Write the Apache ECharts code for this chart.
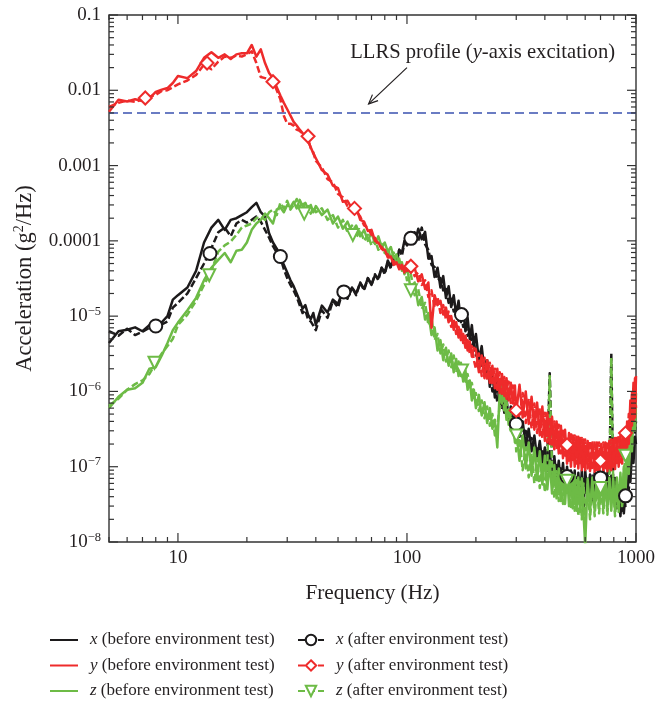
<!DOCTYPE html>
<html>
<head>
<meta charset="utf-8">
<script src="https://cdn.jsdelivr.net/npm/echarts@6/dist/echarts.min.js"></script>
<style>
  html, body { margin: 0; padding: 0; background: #ffffff; }
  #chart { width: 656px; height: 705px; }
</style>
</head>
<body>
<div id="chart"></div>
<script>
// Frequency grid (Hz) shared by all six spectra
const FREQ = [
  5, 5.5, 6, 6.5, 7, 7.5, 8, 8.5, 9, 9.5,
  10, 11, 12, 13, 14, 15, 16, 17, 18, 19,
  20, 21, 22, 23, 24, 25, 26, 27, 28, 29, 30, 31, 32, 33, 34, 35, 36, 37, 38, 39,
  40, 42.5, 45, 47.5, 50, 52.5, 55, 57.5, 60, 62.5, 65, 67.5, 70, 72.5, 75, 77.5, 80, 82.5, 85, 87.5, 90, 92.5, 95, 97.5,
  100, 104, 108, 112, 116, 120, 124, 128, 132, 136, 140, 144, 148, 152, 156, 160, 164, 168, 172, 176, 180, 184, 188, 192, 196,
  200, 206, 212, 218, 224, 230, 236, 242, 248, 254, 260, 266, 272, 278, 284, 290, 296,
  300, 310, 320, 330, 340, 350, 360, 370, 380, 390, 400, 410, 420, 430, 440, 450, 460, 470, 480, 490,
  500, 510, 520, 530, 540, 550, 560, 570, 580, 590,
  600, 615, 630, 645, 660, 675, 690, 705, 720, 735, 750, 765, 780, 795, 810, 825, 840, 855, 870, 885,
  900, 915, 930, 945, 960, 975, 990, 1000
];

// PSD, x direction, before the environment test (g^2/Hz)
const X_BEFORE = [
  4.4e-6, 6.3e-6, 6.6e-6, 7.1e-6, 6.3e-6, 7.6e-6, 7.2e-6, 8.3e-6, 1.0e-5, 1.66e-5,
  1.9e-5, 2.4e-5, 4.0e-5, 9.5e-5, 1.5e-4, 1.9e-4, 1.4e-4, 1.9e-4, 2.0e-4, 2.2e-4,
  2.4e-4, 2.8e-4, 3.2e-4, 2.4e-4, 2.1e-4, 1.26e-4, 9.5e-5, 7.9e-5, 6.3e-5, 4.8e-5, 3.8e-5, 3.0e-5, 2.5e-5, 2.0e-5, 1.6e-5, 1.26e-5, 1.4e-5, 1.05e-5, 9.1e-6, 1.1e-5,
  7.6e-6, 1.38e-5, 1.12e-5, 1.66e-5, 1.45e-5, 2.2e-5, 1.74e-5, 2.4e-5, 2.0e-5, 2.75e-5, 2.3e-5, 3.2e-5, 2.6e-5, 3.5e-5, 3.2e-5, 4.4e-5, 3.8e-5, 5.5e-5, 4.5e-5, 6.3e-5, 5.2e-5, 7.6e-5, 6.9e-5, 1.0e-4,
  8.7e-5, 1.26e-4, 9.3e-5, 1.45e-4, 1.05e-4, 1.32e-4, 5.8e-5, 6.3e-5, 3.3e-5, 4.4e-5, 2.4e-5, 3.4e-5, 1.74e-5, 2.5e-5, 1.32e-5, 1.9e-5, 1.05e-5, 1.6e-5, 8.3e-6, 1.2e-5, 6.3e-6, 9.5e-6, 5.0e-6, 7.6e-6, 4.0e-6,
  5.8e-6, 2.6e-6, 4.0e-6, 1.8e-6, 2.6e-6, 1.15e-6, 1.74e-6, 8.3e-7, 1.32e-6, 6.6e-7, 1.05e-6, 5.2e-7, 8.3e-7, 4.2e-7, 6.3e-7, 3.2e-7, 5.0e-7,
  5.0e-7, 2.5e-7, 4.0e-7, 1.9e-7, 3.2e-7, 1.6e-7, 2.6e-7, 1.26e-7, 2.2e-7, 1.12e-7, 1.8e-7, 8.9e-8, 1.6e-7, 7.9e-8, 1.38e-7, 6.6e-8, 1.2e-7, 5.6e-8, 1.12e-7, 5.0e-8,
  1.0e-7, 4.8e-8, 8.9e-8, 4.2e-8, 8.9e-8, 3.2e-8, 8.3e-8, 3.8e-8, 8.9e-8, 2.5e-8,
  8.9e-8, 4.0e-8, 7.9e-8, 3.5e-8, 8.3e-8, 4.5e-8, 9.5e-8, 5.0e-8, 8.9e-8, 4.2e-8, 8.3e-8, 3.8e-8, 7.6e-8, 3.5e-8, 7.1e-8, 2.8e-8, 5.6e-8, 2.2e-8, 4.5e-8, 2.4e-8,
  5.0e-8, 3.5e-8, 8.9e-8, 6.3e-8, 1.6e-7, 1.12e-7, 2.5e-7, 2.0e-7
];

// PSD, x direction, after the environment test
const X_AFTER = [
  6.3e-6, 5.5e-6, 6.8e-6, 5.6e-6, 6.2e-6, 7.0e-6, 7.2e-6, 7.8e-6, 8.5e-6, 1.3e-5,
  1.5e-5, 2.0e-5, 3.2e-5, 5.0e-5, 8.0e-5, 1.3e-4, 1.5e-4, 1.15e-4, 1.7e-4, 1.9e-4,
  1.75e-4, 1.9e-4, 2.1e-4, 1.8e-4, 1.4e-4, 1.1e-4, 8.5e-5, 7.0e-5, 6.0e-5, 4.2e-5, 3.2e-5, 2.6e-5, 2.2e-5, 1.8e-5, 1.4e-5, 1.1e-5, 1.2e-5, 9.0e-6, 8.5e-6, 7.5e-6,
  6.5e-6, 1.2e-5, 9.5e-6, 1.6e-5, 1.3e-5, 2.2e-5, 1.7e-5, 2.4e-5, 1.9e-5, 2.8e-5, 2.2e-5, 3.2e-5, 2.6e-5, 3.6e-5, 3.0e-5, 4.4e-5, 3.6e-5, 5.2e-5, 4.3e-5, 6.3e-5, 5.0e-5, 7.6e-5, 6.3e-5, 9.5e-5,
  1.15e-4, 9.0e-5, 1.3e-4, 1.0e-4, 1.5e-4, 9.0e-5, 7.6e-5, 4.8e-5, 4.5e-5, 3.0e-5, 3.2e-5, 2.2e-5, 2.4e-5, 1.5e-5, 1.7e-5, 1.15e-5, 1.3e-5, 8.7e-6, 1.1e-5, 7.2e-6, 8.3e-6, 5.5e-6, 6.3e-6, 4.0e-6, 4.6e-6,
  3.0e-6, 3.6e-6, 2.2e-6, 2.6e-6, 1.5e-6, 1.8e-6, 1.0e-6, 1.2e-6, 7.2e-7, 9.0e-7, 5.8e-7, 7.2e-7, 4.6e-7, 5.8e-7, 3.8e-7, 4.6e-7, 3.0e-7,
  3.8e-7, 4.0e-7, 2.4e-7, 3.0e-7, 1.9e-7, 2.4e-7, 1.5e-7, 1.9e-7, 1.2e-7, 1.6e-7, 1.0e-7, 1.3e-7, 1.75e-6, 1.2e-7, 8.3e-8, 1.05e-7, 7.2e-8, 9.5e-8, 6.3e-8, 8.7e-8,
  6.0e-8, 8.0e-8, 5.2e-8, 7.6e-8, 4.6e-8, 7.2e-8, 4.2e-8, 7.0e-8, 3.8e-8, 6.8e-8,
  4.5e-8, 7.2e-8, 4.0e-8, 7.6e-8, 4.6e-8, 8.0e-8, 5.0e-8, 7.6e-8, 4.8e-8, 7.2e-8, 4.4e-8, 6.6e-8, 3.2e-6, 6.0e-8, 3.6e-8, 5.5e-8, 3.0e-8, 4.6e-8, 2.6e-8, 4.0e-8,
  3.0e-8, 4.4e-8, 5.0e-8, 9.0e-8, 1.2e-7, 2.0e-7, 3.0e-7, 4.0e-7
];

// PSD, y direction, before the environment test
const Y_BEFORE = [
  5.2e-3, 7.5e-3, 7.1e-3, 7.6e-3, 7.2e-3, 7.8e-3, 9.5e-3, 1.02e-2, 1.07e-2, 1.25e-2,
  1.55e-2, 1.45e-2, 1.8e-2, 2.7e-2, 3.2e-2, 2.7e-2, 3.0e-2, 2.6e-2, 3.0e-2, 3.1e-2,
  3.1e-2, 4.0e-2, 2.8e-2, 3.5e-2, 2.3e-2, 1.7e-2, 1.45e-2, 1.1e-2, 8.5e-3, 6.8e-3, 5.6e-3, 4.6e-3, 3.8e-3, 3.4e-3, 3.0e-3, 2.7e-3, 2.4e-3, 2.1e-3, 1.75e-3, 1.45e-3,
  1.25e-3, 8.7e-4, 7.6e-4, 5.4e-4, 5.0e-4, 3.3e-4, 3.4e-4, 2.7e-4, 2.8e-4, 1.9e-4, 1.8e-4, 1.35e-4, 1.4e-4, 1.0e-4, 9.5e-5, 7.8e-5, 7.6e-5, 6.0e-5, 6.2e-5, 4.8e-5, 5.2e-5, 4.2e-5, 4.8e-5, 3.8e-5,
  5.2e-5, 3.8e-5, 4.4e-5, 2.9e-5, 3.6e-5, 2.3e-5, 2.8e-5, 7.0e-6, 1.9e-5, 1.4e-5, 1.6e-5, 1.05e-5, 1.3e-5, 8.3e-6, 1.0e-5, 6.6e-6, 8.3e-6, 5.2e-6, 6.6e-6, 4.4e-6, 5.5e-6, 3.5e-6, 4.6e-6, 2.9e-6, 3.8e-6,
  3.6e-6, 1.8e-6, 3.0e-6, 1.5e-6, 2.6e-6, 1.3e-6, 2.2e-6, 1.1e-6, 2.0e-6, 9.5e-7, 1.7e-6, 8.7e-7, 1.5e-6, 7.6e-7, 1.3e-6, 6.9e-7, 1.2e-6,
  5.4e-7, 1.23e-6, 4.5e-7, 1.0e-6, 3.7e-7, 8.5e-7, 3.1e-7, 7.1e-7, 2.6e-7, 6.3e-7, 2.2e-7, 5.2e-7, 2.0e-7, 4.6e-7, 1.7e-7, 4.0e-7, 1.5e-7, 3.5e-7, 1.3e-7, 3.1e-7,
  1.1e-7, 2.8e-7, 1.0e-7, 2.6e-7, 1.0e-7, 2.5e-7, 9.5e-8, 2.4e-7, 9.0e-8, 2.3e-7,
  9.0e-8, 2.2e-7, 8.7e-8, 2.1e-7, 8.5e-8, 2.1e-7, 8.3e-8, 2.0e-7, 8.5e-8, 2.1e-7, 8.7e-8, 2.2e-7, 9.0e-8, 2.3e-7, 9.3e-8, 2.4e-7, 1.0e-7, 2.6e-7, 1.1e-7, 3.0e-7,
  1.3e-7, 4.0e-7, 2.0e-7, 7.6e-7, 3.5e-7, 1.3e-6, 4.5e-7, 1.6e-6
];

// PSD, y direction, after the environment test
const Y_AFTER = [
  6.0e-3, 6.8e-3, 7.3e-3, 7.0e-3, 7.6e-3, 8.2e-3, 8.7e-3, 9.8e-3, 1.0e-2, 1.1e-2,
  1.2e-2, 1.35e-2, 1.6e-2, 2.2e-2, 1.9e-2, 2.4e-2, 2.8e-2, 2.7e-2, 2.9e-2, 2.8e-2,
  3.0e-2, 3.3e-2, 2.3e-2, 1.5e-2, 1.45e-2, 1.35e-2, 1.3e-2, 1.0e-2, 7.6e-3, 4.6e-3, 3.6e-3, 3.6e-3, 3.4e-3, 3.0e-3, 2.9e-3, 2.6e-3, 2.5e-3, 2.3e-3, 1.7e-3, 1.5e-3,
  1.15e-3, 9.5e-4, 6.6e-4, 6.0e-4, 4.2e-4, 3.8e-4, 2.9e-4, 2.8e-4, 2.5e-4, 2.1e-4, 1.6e-4, 1.5e-4, 1.2e-4, 1.1e-4, 8.7e-5, 8.3e-5, 6.9e-5, 6.6e-5, 5.5e-5, 5.4e-5, 4.6e-5, 4.8e-5, 4.2e-5, 4.6e-5,
  4.0e-5, 4.6e-5, 3.4e-5, 3.8e-5, 2.6e-5, 3.0e-5, 1.8e-5, 2.2e-5, 1.3e-5, 1.8e-5, 1.1e-5, 1.4e-5, 9.0e-6, 1.15e-5, 7.2e-6, 9.0e-6, 5.8e-6, 7.2e-6, 4.8e-6, 5.8e-6, 3.8e-6, 4.8e-6, 3.2e-6, 4.0e-6, 2.6e-6,
  2.0e-6, 3.2e-6, 1.6e-6, 2.8e-6, 1.4e-6, 2.4e-6, 1.2e-6, 2.0e-6, 1.05e-6, 1.8e-6, 9.0e-7, 1.55e-6, 8.0e-7, 1.35e-6, 7.0e-7, 1.2e-6, 6.2e-7,
  5.6e-7, 4.4e-7, 9.5e-7, 3.8e-7, 8.0e-7, 3.2e-7, 6.9e-7, 2.8e-7, 6.0e-7, 2.4e-7, 5.2e-7, 2.1e-7, 4.6e-7, 1.9e-7, 4.0e-7, 1.7e-7, 3.6e-7, 1.5e-7, 3.2e-7, 1.4e-7,
  1.95e-7, 1.2e-7, 2.8e-7, 1.15e-7, 2.6e-7, 1.1e-7, 2.5e-7, 1.05e-7, 2.4e-7, 1.0e-7,
  2.3e-7, 9.5e-8, 2.2e-7, 9.0e-8, 2.2e-7, 9.0e-8, 2.1e-7, 1.2e-7, 2.1e-7, 9.0e-8, 2.2e-7, 9.5e-8, 2.3e-7, 1.0e-7, 2.4e-7, 1.05e-7, 2.6e-7, 1.15e-7, 2.9e-7, 1.3e-7,
  2.8e-7, 1.8e-7, 5.0e-7, 2.6e-7, 1.0e-6, 4.0e-7, 1.5e-6, 6.0e-7
];

// PSD, z direction, before the environment test
const Z_BEFORE = [
  6.0e-7, 8.5e-7, 1.05e-6, 1.1e-6, 1.3e-6, 2.0e-6, 2.1e-6, 3.0e-6, 4.4e-6, 6.5e-6,
  8.2e-6, 1.2e-5, 1.75e-5, 3.0e-5, 4.4e-5, 5.6e-5, 6.9e-5, 5.2e-5, 7.4e-5, 7.6e-5,
  9.5e-5, 1.4e-4, 1.7e-4, 1.9e-4, 2.3e-4, 2.0e-4, 1.7e-4, 2.6e-4, 2.8e-4, 2.4e-4, 3.0e-4, 2.8e-4, 3.3e-4, 2.7e-4, 3.5e-4, 2.9e-4, 3.2e-4, 2.6e-4, 3.0e-4, 2.4e-4,
  2.9e-4, 2.2e-4, 2.6e-4, 1.7e-4, 2.1e-4, 1.45e-4, 1.8e-4, 1.3e-4, 1.6e-4, 1.15e-4, 1.4e-4, 1.0e-4, 1.3e-4, 9.1e-5, 1.15e-4, 8.3e-5, 9.5e-5, 7.2e-5, 8.3e-5, 6.0e-5, 6.6e-5, 4.8e-5, 5.2e-5, 3.6e-5,
  4.5e-5, 2.2e-5, 2.8e-5, 1.4e-5, 1.8e-5, 9.0e-6, 1.1e-5, 5.6e-6, 7.1e-6, 3.5e-6, 4.8e-6, 2.6e-6, 3.8e-6, 2.2e-6, 3.2e-6, 1.8e-6, 2.7e-6, 1.6e-6, 2.4e-6, 1.35e-6, 1.9e-6, 1.05e-6, 1.4e-6, 7.6e-7, 1.05e-6,
  6.0e-7, 9.0e-7, 4.8e-7, 7.2e-7, 3.8e-7, 6.0e-7, 3.2e-7, 4.2e-7, 1.8e-7, 1.0e-6, 6.9e-7, 9.5e-7, 4.2e-7, 5.8e-7, 3.0e-7, 4.2e-7, 2.1e-7,
  3.2e-7, 1.2e-7, 2.6e-7, 9.5e-8, 2.1e-7, 7.6e-8, 1.8e-7, 6.6e-8, 1.6e-7, 5.8e-8, 1.4e-7, 5.0e-8, 1.2e-7, 4.4e-8, 1.05e-7, 3.8e-8, 9.5e-8, 3.5e-8, 8.7e-8, 3.2e-8,
  8.3e-8, 3.0e-8, 7.9e-8, 2.8e-8, 7.6e-8, 2.6e-8, 7.2e-8, 2.5e-8, 7.0e-8, 2.4e-8,
  9.0e-9, 6.9e-8, 2.5e-8, 7.2e-8, 2.6e-8, 7.4e-8, 2.8e-8, 7.6e-8, 2.8e-8, 7.4e-8, 2.7e-8, 7.2e-8, 2.6e-8, 7.0e-8, 2.5e-8, 7.2e-8, 2.8e-8, 8.3e-8, 3.2e-8, 1.0e-7,
  4.4e-8, 1.6e-7, 8.0e-8, 3.0e-7, 1.6e-7, 5.5e-7, 3.0e-7, 9.5e-7
];

// PSD, z direction, after the environment test
const Z_AFTER = [
  6.5e-7, 8.0e-7, 1.05e-6, 1.25e-6, 1.4e-6, 1.7e-6, 2.4e-6, 3.2e-6, 4.0e-6, 5.0e-6,
  7.6e-6, 1.05e-5, 1.6e-5, 2.6e-5, 4.0e-5, 7.2e-5, 8.7e-5, 9.8e-5, 1.2e-4, 1.5e-4,
  1.6e-4, 1.7e-4, 2.0e-4, 2.1e-4, 1.9e-4, 2.4e-4, 2.6e-4, 2.2e-4, 3.2e-4, 2.7e-4, 3.4e-4, 2.6e-4, 3.0e-4, 3.6e-4, 2.8e-4, 3.3e-4, 2.5e-4, 2.9e-4, 2.3e-4, 2.8e-4,
  2.4e-4, 2.7e-4, 1.9e-4, 2.2e-4, 1.5e-4, 1.9e-4, 1.3e-4, 1.6e-4, 1.1e-4, 1.4e-4, 1.0e-4, 1.2e-4, 8.7e-5, 1.05e-4, 7.6e-5, 9.1e-5, 6.9e-5, 8.0e-5, 5.8e-5, 7.0e-5, 5.0e-5, 5.8e-5, 4.0e-5, 4.6e-5,
  3.0e-5, 3.6e-5, 1.9e-5, 2.3e-5, 1.25e-5, 1.5e-5, 7.6e-6, 9.5e-6, 4.8e-6, 5.8e-6, 3.2e-6, 4.2e-6, 2.5e-6, 3.5e-6, 2.1e-6, 3.0e-6, 1.8e-6, 2.5e-6, 1.6e-6, 2.0e-6, 1.35e-6, 1.7e-6, 1.1e-6, 1.3e-6, 8.3e-7,
  9.5e-7, 5.5e-7, 7.6e-7, 4.4e-7, 6.3e-7, 3.5e-7, 5.0e-7, 2.6e-7, 3.5e-7, 6.3e-7, 1.5e-6, 5.2e-7, 7.6e-7, 3.6e-7, 5.0e-7, 2.8e-7, 3.8e-7,
  1.6e-7, 2.4e-7, 9.0e-8, 1.8e-7, 7.2e-8, 1.5e-7, 6.0e-8, 1.3e-7, 5.2e-8, 1.15e-7, 4.6e-8, 1.05e-7, 1.6e-6, 9.5e-8, 3.8e-8, 8.7e-8, 3.5e-8, 8.0e-8, 3.2e-8, 7.6e-8,
  5.6e-8, 7.2e-8, 2.8e-8, 7.0e-8, 2.6e-8, 6.6e-8, 2.2e-8, 6.3e-8, 2.0e-8, 6.0e-8,
  2.2e-8, 5.8e-8, 2.0e-8, 6.0e-8, 2.2e-8, 6.3e-8, 2.4e-8, 5.5e-8, 2.4e-8, 6.3e-8, 2.3e-8, 6.0e-8, 2.8e-6, 5.8e-8, 2.2e-8, 6.3e-8, 2.5e-8, 7.2e-8, 3.0e-8, 9.0e-8,
  1.3e-7, 1.1e-7, 2.4e-7, 1.8e-7, 4.0e-7, 3.0e-7, 6.0e-7, 5.0e-7
];

// Symbol positions on the "after" curves
const X_MARK_F = [8, 13.8, 28, 53, 104, 173, 300, 500, 700, 900];
const X_MARK_V = [7.4e-6, 6.8e-5, 6.2e-5, 2.1e-5, 1.08e-4, 1.05e-5, 3.7e-7, 7.4e-8, 7.1e-8, 4.1e-8];
const Y_MARK_F = [7.2, 13.4, 26, 37, 59, 104, 300, 500, 700, 900];
const Y_MARK_V = [7.9e-3, 2.3e-2, 1.3e-2, 2.45e-3, 2.7e-4, 4.6e-5, 5.6e-7, 1.95e-7, 1.2e-7, 2.8e-7];
const Z_MARK_F = [7.9, 13.7, 35.6, 58, 104, 174, 300, 500, 700, 900];
const Z_MARK_V = [2.4e-6, 3.5e-5, 2.3e-4, 1.2e-4, 2.2e-5, 1.9e-6, 2.6e-7, 6.5e-8, 5.2e-8, 1.4e-7];

// LLRS required level (y-axis excitation)
const LLRS_F = [5, 1000];
const LLRS_V = [0.005, 0.005];

// Axis ranges and labelled ticks
const X_RANGE = [5, 1000];
const Y_RANGE = [1e-8, 0.1];
const X_TICK_LABELS = [10, 100, 1000];
const Y_DECADES = [-8, -7, -6, -5, -4, -3, -2, -1];

// Annotation anchors in data space [Hz, g^2/Hz]
const NOTE_TEXT_AT = [214, 0.032];
const NOTE_ARROW_FROM = [100, 0.02];
const NOTE_ARROW_TO = [68, 0.0066];

const NAMES = {
  xb: 'x (before environment test)',
  yb: 'y (before environment test)',
  zb: 'z (before environment test)',
  xa: 'x (after environment test)',
  ya: 'y (after environment test)',
  za: 'z (after environment test)'
};

const SERIF = '"Liberation Serif", "DejaVu Serif", serif';
const INK = '#231f20';
const AXIS = '#333333';
const BLACK = '#1c1a1b';
const RED = '#ee2b2b';
const GREEN = '#6dbb46';
const BLUE = '#3a52b0';

const pairs = (fs, vs) => vs.map((v, i) => [fs[i], v]);

function curve(name, values, color, dashed, symbol, rotate) {
  return {
    name: name,
    type: 'line',
    data: pairs(FREQ, values),
    color: color,
    symbol: symbol || 'none',
    symbolRotate: rotate || 0,
    showSymbol: false,
    lineStyle: { color: color, width: 2.5, type: dashed ? [7, 3] : 'solid', join: 'round' },
    silent: true,
    animation: false,
    z: 2
  };
}

function marks(name, fs, vs, color, symbol, size, rotate) {
  return {
    name: name,
    type: 'scatter',
    data: pairs(fs, vs),
    color: color,
    symbol: symbol,
    symbolSize: size,
    symbolRotate: rotate || 0,
    itemStyle: { color: color, borderWidth: 1.3, opacity: 1 },
    silent: true,
    animation: false,
    z: 5
  };
}

const chart = echarts.init(document.getElementById('chart'), null, { renderer: 'canvas' });

const legendRich = {
  i: { fontStyle: 'italic', fontFamily: SERIF, fontSize: 17, color: INK, lineHeight: 20 }
};
const legendFmt = name => '{i|' + name.charAt(0) + '}' + name.slice(1);
const legendText = { fontFamily: SERIF, fontSize: 17, color: INK, lineHeight: 20, padding: [0, 0, 0, 7], rich: legendRich };

const option = {
  animation: false,
  backgroundColor: '#ffffff',
  grid: {
    left: 109, right: 20, top: 15, bottom: 163,
    show: true, borderColor: AXIS, borderWidth: 1.4, backgroundColor: 'transparent',
    containLabel: false, outerBoundsMode: 'none'
  },
  xAxis: {
    type: 'log', logBase: 10, min: X_RANGE[0], max: X_RANGE[1],
    name: 'Frequency (Hz)', nameLocation: 'middle', nameGap: 41,
    nameMoveOverlap: false,
    nameTextStyle: { fontFamily: SERIF, fontSize: 21.3, color: INK },
    axisLine: { show: false }, axisTick: { show: false },
    splitLine: { show: false }, minorTick: { show: false },
    axisLabel: {
      margin: 7, fontFamily: SERIF, fontSize: 19, color: INK,
      showMinLabel: true, showMaxLabel: true, hideOverlap: false,
      formatter: v => {
        const r = Math.round(v);
        return X_TICK_LABELS.indexOf(r) >= 0 && Math.abs(v - r) < 1e-6 * r ? String(r) : '';
      }
    }
  },
  yAxis: {
    type: 'log', logBase: 10, min: Y_RANGE[0], max: Y_RANGE[1],
    name: 'Acceleration (g{sup|2}/Hz)', nameLocation: 'middle', nameGap: 71,
    nameMoveOverlap: false,
    nameTextStyle: {
      fontFamily: SERIF, fontSize: 22.5, color: INK, lineHeight: 26,
      rich: { sup: { fontFamily: SERIF, fontSize: 14, color: INK, lineHeight: 14, verticalAlign: 'top' } }
    },
    axisLine: { show: false }, axisTick: { show: false },
    splitLine: { show: false }, minorTick: { show: false },
    axisLabel: {
      margin: 8, fontFamily: SERIF, fontSize: 19, color: INK, lineHeight: 22,
      showMinLabel: true, showMaxLabel: true, hideOverlap: false,
      rich: { sup: { fontFamily: SERIF, fontSize: 12.5, color: INK, lineHeight: 13, verticalAlign: 'top' } },
      formatter: v => {
        const e = Math.round(Math.log10(v));
        if (Y_DECADES.indexOf(e) < 0) return '';
        if (e >= -4) return Math.pow(10, e).toFixed(-e);
        return '10{sup|\u2212' + (-e) + '}';
      }
    }
  },
  legend: [
    {
      left: 50, top: 630, height: 100, padding: 0, orient: 'vertical', itemGap: 5.5,
      itemWidth: 28, itemHeight: 2, selectedMode: false,
      data: [
        { name: NAMES.xb, icon: 'rect' },
        { name: NAMES.yb, icon: 'rect' },
        { name: NAMES.zb, icon: 'rect' }
      ],
      formatter: legendFmt,
      textStyle: legendText
    },
    {
      left: 297, top: 630, height: 100, padding: 0, orient: 'vertical', itemGap: 5.5,
      itemWidth: 26, itemHeight: 13, selectedMode: false,
      data: [NAMES.xa, NAMES.ya, NAMES.za],
      formatter: legendFmt,
      textStyle: legendText
    }
  ],
  series: [
    {
      name: 'LLRS', type: 'line', data: pairs(LLRS_F, LLRS_V),
      symbol: 'none', color: BLUE,
      lineStyle: { color: BLUE, width: 1.4, type: [9, 5] },
      silent: true, z: 1
    },
    curve(NAMES.xb, X_BEFORE, BLACK, false),
    curve(NAMES.xa, X_AFTER, BLACK, true, 'emptyCircle'),
    curve(NAMES.zb, Z_BEFORE, GREEN, false),
    curve(NAMES.za, Z_AFTER, GREEN, true, 'emptyTriangle', 180),
    curve(NAMES.yb, Y_BEFORE, RED, false),
    curve(NAMES.ya, Y_AFTER, RED, true, 'emptyDiamond'),
    marks(NAMES.xa, X_MARK_F, X_MARK_V, BLACK, 'emptyCircle', 13),
    marks(NAMES.za, Z_MARK_F, Z_MARK_V, GREEN, 'emptyTriangle', 12, 180),
    marks(NAMES.ya, Y_MARK_F, Y_MARK_V, RED, 'emptyDiamond', 13)
  ]
};

chart.setOption(option);

// Frame ticks (inside, on all four sides) and the annotation, placed through the axis scales
const px = f => chart.convertToPixel({ xAxisIndex: 0 }, f);
const py = v => chart.convertToPixel({ yAxisIndex: 0 }, v);
const gx0 = px(X_RANGE[0]), gx1 = px(X_RANGE[1]);
const gy0 = py(Y_RANGE[1]), gy1 = py(Y_RANGE[0]);
const MAJOR = 9, MINOR = 5;
const tickStyle = { stroke: AXIS, lineWidth: 1.2 };
const g = [];
const seg = (x1, y1, x2, y2) => g.push({ type: 'line', silent: true, z: 10, shape: { x1, y1, x2, y2 }, style: tickStyle });

for (let d = 0; d <= 3; d++) {
  for (let m = 1; m <= 9; m++) {
    const f = m * Math.pow(10, d);
    if (f < X_RANGE[0] || f > X_RANGE[1]) continue;
    const x = px(f);
    const len = m === 1 ? MAJOR : MINOR;
    seg(x, gy1, x, gy1 - len);
    seg(x, gy0, x, gy0 + len);
  }
}
for (const e of Y_DECADES) {
  for (let m = 1; m <= 9; m++) {
    const v = m * Math.pow(10, e);
    if (v > Y_RANGE[1] * 1.0001) continue;
    const y = py(v);
    const len = m === 1 ? MAJOR : MINOR;
    seg(gx0, y, gx0 + len, y);
    seg(gx1, y, gx1 - len, y);
  }
}

// "LLRS profile" note with an open arrow
const tx = px(NOTE_TEXT_AT[0]), ty = py(NOTE_TEXT_AT[1]);
g.push({
  type: 'text', x: tx, y: ty, silent: true, z: 10,
  style: {
    text: 'LLRS profile ({i|y}-axis excitation)',
    fontFamily: SERIF, fontSize: 20.6, fill: INK,
    align: 'center', verticalAlign: 'middle',
    rich: { i: { fontFamily: SERIF, fontSize: 20.6, fontStyle: 'italic', fill: INK } }
  }
});
const ax1 = px(NOTE_ARROW_FROM[0]), ay1 = py(NOTE_ARROW_FROM[1]);
const ax2 = px(NOTE_ARROW_TO[0]), ay2 = py(NOTE_ARROW_TO[1]);
const arrowStyle = { stroke: INK, lineWidth: 1.2, fill: null };
g.push({ type: 'line', silent: true, z: 10, shape: { x1: ax1, y1: ay1, x2: ax2, y2: ay2 }, style: arrowStyle });
const ang = Math.atan2(ay1 - ay2, ax1 - ax2);
const head = 10, spread = 0.42;
g.push({
  type: 'polyline', silent: true, z: 10,
  shape: { points: [
    [ax2 + head * Math.cos(ang + spread), ay2 + head * Math.sin(ang + spread)],
    [ax2, ay2],
    [ax2 + head * Math.cos(ang - spread), ay2 + head * Math.sin(ang - spread)]
  ] },
  style: arrowStyle
});

chart.setOption({ graphic: g });
</script>
</body>
</html>
